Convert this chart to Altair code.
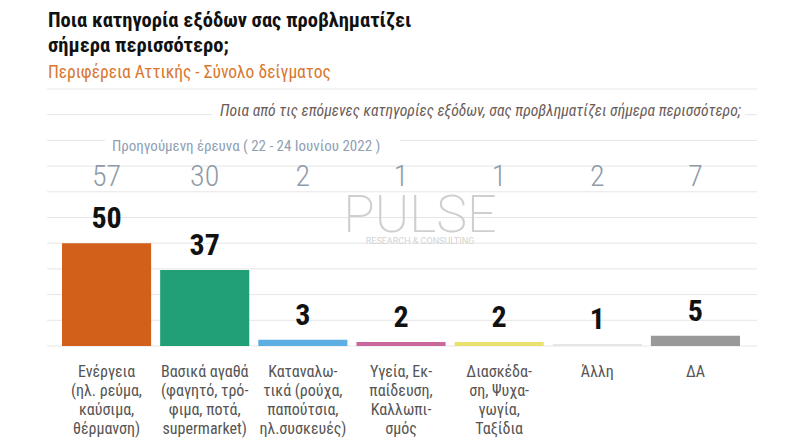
import altair as alt
import pandas as pd

categories = ["Ενέργεια", "Βασικά αγαθά", "Καταναλωτικά", "Υγεία", "Διασκέδαση", "Άλλη", "ΔΑ"]
labels = [
    "Ενέργεια\n(ηλ. ρεύμα,\nκαύσιμα,\nθέρμανση)",
    "Βασικά αγαθά\n(φαγητό, τρό-\nφιμα, ποτά,\nsupermarket)",
    "Καταναλω-\nτικά (ρούχα,\nπαπούτσια,\nηλ.συσκευές)",
    "Υγεία, Εκ-\nπαίδευση,\nΚαλλωπι-\nσμός",
    "Διασκέδα-\nση, Ψυχα-\nγωγία,\nΤαξίδια",
    "Άλλη",
    "ΔΑ",
]
current = [50, 37, 3, 2, 2, 1, 5]
previous = [57, 30, 2, 1, 1, 2, 7]
colors = ["#D2601A", "#21A077", "#5DAEE2", "#C8689C", "#E9E271", "#E6E6E6", "#999999"]
grid_values = [0, 12.5, 25, 37.5, 50, 62.5, 75, 87.5, 100, 112.5, 125]

title1 = "Ποια κατηγορία εξόδων σας προβληματίζει"
title2 = "σήμερα περισσότερο;"
subtitle = "Περιφέρεια Αττικής - Σύνολο δείγματος"
question = "Ποια από τις επόμενες κατηγορίες εξόδων, σας προβληματίζει σήμερα περισσότερο;"
prev_label = "Προηγούμενη έρευνα  ( 22 - 24 Ιουνίου 2022 )"

COND = "Roboto Condensed, Liberation Sans Narrow, DejaVu Sans Condensed, Roboto"

df = pd.DataFrame({"cat": categories, "label": labels, "cur": current, "prev": previous, "color": colors})
gdf = pd.DataFrame({"g": grid_values})

xs = alt.Scale(domain=categories, range=[54, 732], paddingInner=0.092, paddingOuter=0)
ys = alt.Scale(domain=[0, 125], range=[338, 81])
X = alt.X("cat:N", scale=xs, axis=None, sort=categories)

grid = alt.Chart(gdf).mark_rule(color="#e6e6e6", strokeWidth=1).encode(
    y=alt.Y("g:Q", scale=ys, axis=None), x=alt.value(39), x2=alt.value(749)
)

one = pd.DataFrame({"a": [0]})
mask1 = alt.Chart(one).mark_rect(color="white").encode(
    x=alt.value(204), x2=alt.value(737), y=alt.value(96), y2=alt.value(116)
)
mask2 = alt.Chart(one).mark_rect(color="white").encode(
    x=alt.value(97), x2=alt.value(392), y=alt.value(124), y2=alt.value(144)
)

bars = alt.Chart(df).mark_bar().encode(
    x=X,
    y=alt.Y("cur:Q", scale=ys, axis=None),
    y2=alt.datum(0),
    color=alt.Color("color:N", scale=None),
)

vals = alt.Chart(df).mark_text(
    baseline="bottom", dy=-9, fontSize=30, fontWeight="bold", font=COND, color="#111111"
).encode(x=X, y=alt.Y("cur:Q", scale=ys, axis=None), text="cur:Q")

prevs = alt.Chart(df).mark_text(
    baseline="alphabetic", fontSize=30, fontWeight=300, font=COND, color="#8f9ba8"
).encode(x=X, y=alt.value(178), text="prev:Q")

xlab = alt.Chart(df).mark_text(
    baseline="middle", fontSize=16, font=COND, color="#555555", lineBreak="\n", lineHeight=19
).encode(x=X, y=alt.value(364), text="label:N")

def txt(s, x, y, **kw):
    return alt.Chart(pd.DataFrame({"t": [s]})).mark_text(baseline="alphabetic", **kw).encode(
        x=alt.value(x), y=alt.value(y), text="t:N"
    )

t1 = txt(title1, 40, 19, align="left", fontSize=20.5, fontWeight="bold", font=COND, color="#111111")
t2 = txt(title2, 40, 44, align="left", fontSize=20.5, fontWeight="bold", font=COND, color="#111111")
t3 = txt(subtitle, 40, 70, align="left", fontSize=17.5, font=COND, color="#D9772F")
tq = txt(question, 733, 108, align="right", fontSize=15.7, fontStyle="italic", font=COND, color="#6a5c58")
tp = txt(prev_label, 104, 143, align="left", fontSize=15, font=COND, color="#8fa0b4")

wm1 = txt("PULSE", 412, 224, align="center", fontSize=52, fontWeight=200, font="Roboto", color="#cfcfcf")
wm2 = txt("RESEARCH & CONSULTING", 412, 236, align="center", fontSize=9, font="Roboto", color="#d3d3d3")

chart = alt.layer(grid, mask1, mask2, bars, vals, prevs, xlab, t1, t2, t3, tq, tp, wm1, wm2).properties(
    width=784, height=432, autosize=alt.AutoSizeParams(type="none"), padding=0
).configure_view(strokeWidth=0)

chart.save("out.html", embed_options={"renderer": "svg", "actions": False})
